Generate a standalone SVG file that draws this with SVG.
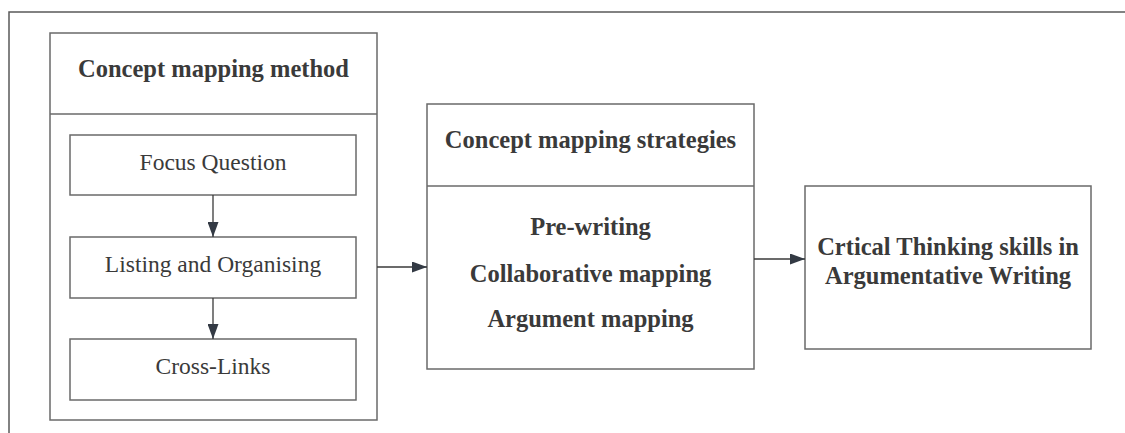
<svg xmlns="http://www.w3.org/2000/svg" width="1125" height="433" viewBox="0 0 1125 433">
<defs>
<style>
.box{fill:#fff;stroke:#6a6a6a;stroke-width:1.5}
.div{stroke:#6a6a6a;stroke-width:1.5}
.frame{fill:none;stroke:#5a5a5a;stroke-width:1.5}
.t{font-family:"Liberation Serif",serif;fill:#3a3a3a;text-anchor:middle}
.b{font-weight:bold;font-size:24.5px}
.r{font-size:23.5px}
.con{stroke:#3a3a3a;stroke-width:1.3;fill:none}
</style>
<marker id="ah" viewBox="0 0 15 11" refX="15" refY="5.5" markerWidth="15" markerHeight="11" markerUnits="userSpaceOnUse" orient="auto">
<path d="M0,0 L15,5.5 L0,11 Z" fill="#333a44"/>
</marker>
</defs>
<rect width="1125" height="433" fill="#fff"/>
<path class="frame" d="M1125,12 H9 V433"/>
<g id="method">
<rect class="box" x="50" y="33" width="327" height="387"/>
<line class="div" x1="50" y1="114" x2="377" y2="114"/>
<text class="t b" x="213.5" y="77">Concept mapping method</text>
</g>
<g id="focus">
<rect class="box" x="70" y="135" width="286" height="60"/>
<text class="t r" x="213" y="170">Focus Question</text>
</g>
<g id="listing">
<rect class="box" x="70" y="237" width="286" height="61"/>
<text class="t r" x="213" y="272">Listing and Organising</text>
</g>
<g id="crosslinks">
<rect class="box" x="70" y="339" width="286" height="61"/>
<text class="t r" x="213" y="374">Cross-Links</text>
</g>
<g id="strategies">
<rect class="box" x="427" y="104" width="327" height="265"/>
<line class="div" x1="427" y1="186" x2="754" y2="186"/>
<text class="t b" x="590.5" y="148">Concept mapping strategies</text>
<text class="t b" x="590.5" y="235">Pre-writing</text>
<text class="t b" x="590.5" y="282">Collaborative mapping</text>
<text class="t b" x="590.5" y="327">Argument mapping</text>
</g>
<g id="critical">
<rect class="box" x="805" y="186" width="286" height="163"/>
<text class="t b" x="948" y="255">Crtical Thinking skills in</text>
<text class="t b" x="948" y="284">Argumentative Writing</text>
</g>
<g id="connectors">
<line class="con" x1="213" y1="195" x2="213" y2="237" marker-end="url(#ah)"/>
<line class="con" x1="213" y1="298" x2="213" y2="339" marker-end="url(#ah)"/>
<line class="con" x1="377" y1="267" x2="427" y2="267" marker-end="url(#ah)"/>
<line class="con" x1="754" y1="259" x2="805" y2="259" marker-end="url(#ah)"/>
</g>
</svg>
